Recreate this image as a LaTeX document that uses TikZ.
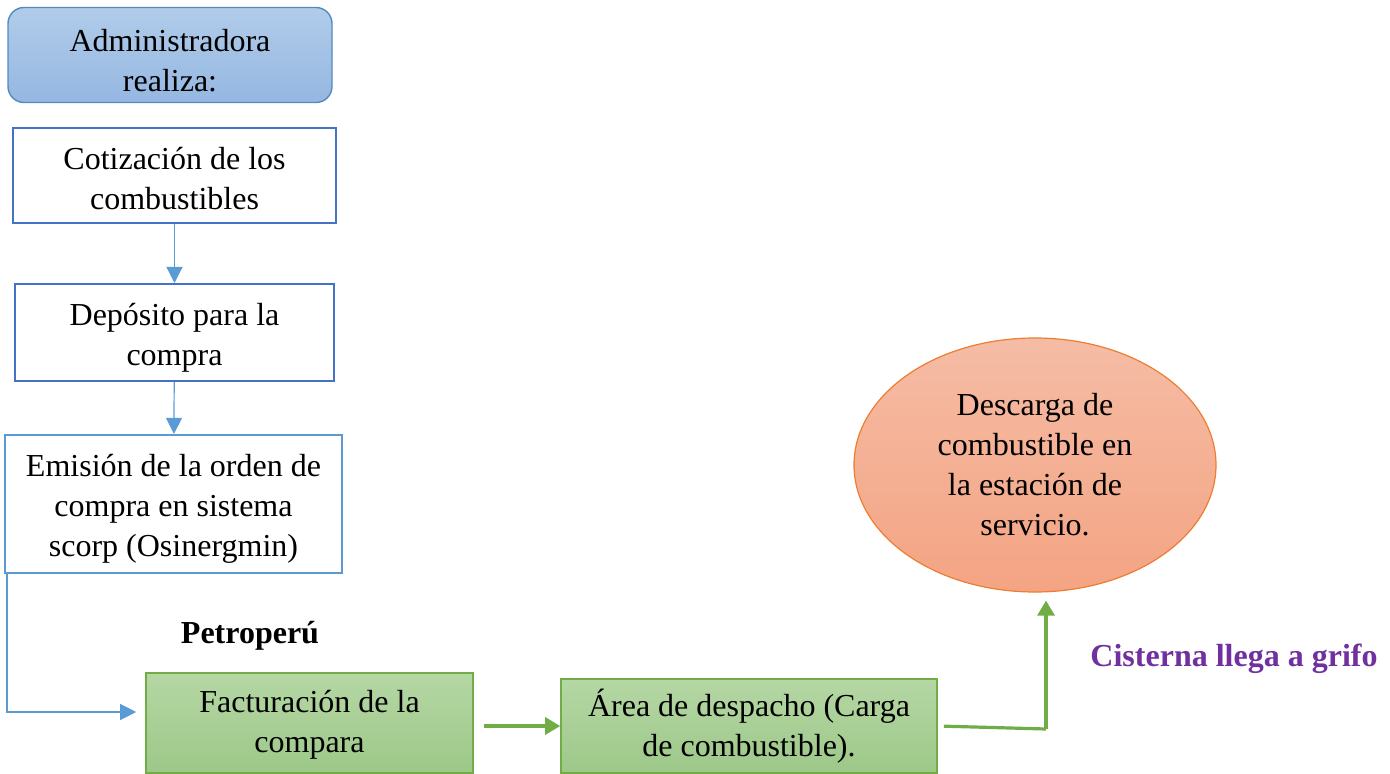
\documentclass[tikz,border=0pt]{standalone}
\usepackage{fontspec}
\setmainfont{Liberation Serif}
\usepackage{tikz}
\usetikzlibrary{arrows.meta,shapes.geometric}

\definecolor{azulborde}{HTML}{4472C4}
\definecolor{azulclaro}{HTML}{5B9BD5}
\definecolor{azularriba}{HTML}{B1CCEA}
\definecolor{azulabajo}{HTML}{95B7E1}
\definecolor{verdeborde}{HTML}{70AD47}
\definecolor{verdearriba}{HTML}{B5D7A4}
\definecolor{verdeabajo}{HTML}{9DC889}
\definecolor{naranja}{HTML}{ED7D31}
\definecolor{salmonarriba}{HTML}{F5BCA5}
\definecolor{salmonabajo}{HTML}{F4A483}
\definecolor{morado}{HTML}{7030A0}

% strut to push the first line down a little
\newcommand{\empuje}[1]{\rule{0pt}{#1}}

\tikzset{
  texto/.style={font=\fontsize{16}{20}\selectfont, align=center, inner sep=0pt},
  caja/.style={texto, draw=azulborde, line width=1pt, fill=white},
  cajaverde/.style={texto, draw=verdeborde, line width=0.8pt, top color=verdearriba, bottom color=verdeabajo},
  flechaazul/.style={draw=azulclaro, line width=0.6pt, -{Triangle[length=8pt,width=8pt]}},
  flechaverde/.style={draw=verdeborde, line width=1.6pt, -{Triangle[length=7.5pt,width=8.5pt]}}
}

\begin{document}
\begin{tikzpicture}[x=0.5pt, y=-0.5pt]
			\useasboundingbox (0,0) rectangle (1390,774);
			% columna de la administradora
			\node[texto, draw=azulclaro!90!black, line width=0.7pt, rounded corners=8pt, top color=azularriba, bottom color=azulabajo, minimum width=162pt, minimum height=47.5pt] (admin) at (170, 55) {\empuje{16.5pt}Administradora\\realiza:};
			\node[caja, minimum width=161.5pt, minimum height=47.5pt] (cotiza) at (174.5, 175.5) {\empuje{14.4pt}Cotización de los\\combustibles};
			\node[caja, minimum width=159.5pt, minimum height=48.5pt] (deposito) at (174.5, 332.5) {\empuje{16.5pt}Depósito para la\\compra};
			\node[caja, draw=azulclaro, line width=1.1pt, minimum width=168.5pt, minimum height=69pt] (emision) at (173.5, 504) {\empuje{15.9pt}Emisión de la orden de\\compra en sistema\\scorp (Osinergmin)};
			\draw[flechaazul] (cotiza) -- (deposito);
			\draw[flechaazul] (deposito) -- (emision);
			% Petroperu
			\node[texto, font=\fontsize{16}{20}\selectfont\bfseries] (petro) at (250, 636) {Petroperú};
			\node[cajaverde, minimum width=163.5pt, minimum height=50pt] (factura) at (309.5, 723) {\empuje{13.4pt}Facturación de la\\compara};
			\node[cajaverde, minimum width=188pt, minimum height=47pt] (area) at (749, 726) {Área de despacho (Carga\\de combustible).};
			\draw[flechaazul] ([xshift=1.5pt]emision.south west) |- ([yshift=5.5pt]factura.west) [shorten >=4.5pt];
			\draw[flechaverde, shorten <=5pt] (factura.east |- area.west) -- (area.west);
			% grifo
			\node[texto, ellipse, draw=naranja, line width=0.6pt, top color=salmonarriba, bottom color=salmonabajo, minimum width=181pt, minimum height=127pt] (descarga) at (1035, 465) {Descarga de\\combustible en\\la estación de\\servicio.};
			\coordinate (giro) at (1046, 729);
			\draw[flechaverde, -, shorten <=3pt] (area.east) -- (giro);
			\draw[flechaverde, shorten >=4pt] (giro) -- (giro |- descarga.south);
			\node[texto, font=\fontsize{16}{20}\selectfont\bfseries, text=morado] (cisterna) at (1234, 659) {Cisterna llega a grifo};
		\end{tikzpicture}
\end{document}
